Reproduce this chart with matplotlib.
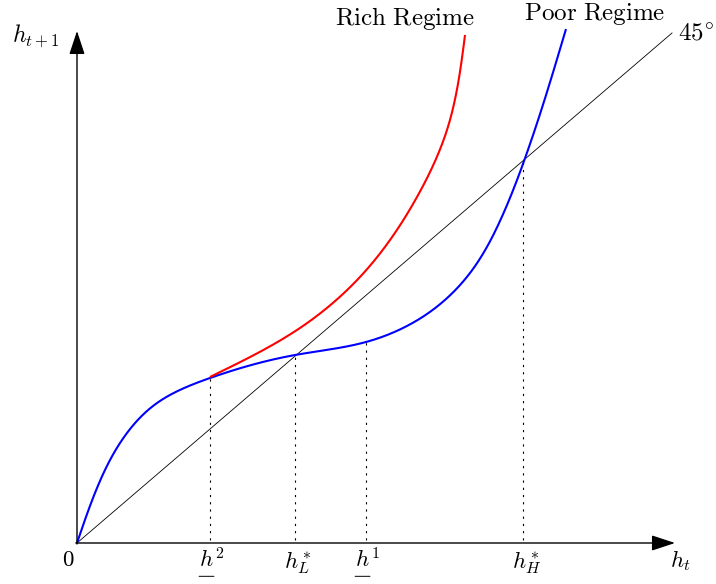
import numpy as np
import matplotlib
matplotlib.use("Agg")
import matplotlib.pyplot as plt
import matplotlib.transforms as mtransforms

plt.rcParams['mathtext.fontset'] = 'cm'

# curve values (h_t, h_{t+1}); the 45 degree line is y = x
poor_x = [0, 0.336, 0.723, 1.345, 2.235, 3.664, 4.857, 5.882, 6.605, 7.109,
          7.513, 7.899, 8.218]
poor_y = [0, 1.078, 1.961, 2.745, 3.235, 3.686, 3.941, 4.490, 5.294, 6.314,
          7.490, 8.843, 10.078]
rich_x = [2.235, 3.748, 4.756, 5.714, 6.218, 6.521]
rich_y = [3.255, 4.216, 5.216, 6.784, 8.098, 9.961]
diag_end = 10.0

# marked points on the h_t axis
mark_x = [2.235, 3.664, 4.857, 7.50]
mark_y = [3.235, 3.686, 3.941, 7.50]
mark_labels = [r'$h^2$', r'$h_L^*$', r'$h^1$', r'$h_H^*$']
mark_underline = [True, False, True, False]


def natural_spline(vals, t, tt):
    n = len(t)
    h = np.diff(t)
    A = np.zeros((n, n))
    b = np.zeros(n)
    A[0, 0] = A[-1, -1] = 1.0
    for i in range(1, n - 1):
        A[i, i - 1] = h[i - 1]
        A[i, i] = 2 * (h[i - 1] + h[i])
        A[i, i + 1] = h[i]
        b[i] = 6 * ((vals[i + 1] - vals[i]) / h[i] - (vals[i] - vals[i - 1]) / h[i - 1])
    M = np.linalg.solve(A, b)
    idx = np.clip(np.searchsorted(t, tt, side='right') - 1, 0, n - 2)
    t0, t1, hi = t[idx], t[idx + 1], h[idx]
    return (M[idx] * (t1 - tt) ** 3 / (6 * hi) + M[idx + 1] * (tt - t0) ** 3 / (6 * hi)
            + (vals[idx] / hi - M[idx] * hi / 6) * (t1 - tt)
            + (vals[idx + 1] / hi - M[idx + 1] * hi / 6) * (tt - t0))


def smooth(xs, ys, n=600):
    # chord-length cubic spline through the read points, for drawing only
    xs = np.asarray(xs, float)
    ys = np.asarray(ys, float)
    d = np.hypot(np.diff(xs), np.diff(ys))
    t = np.concatenate([[0], np.cumsum(d)])
    tt = np.linspace(0, t[-1], n)
    return natural_spline(xs, t, tt), natural_spline(ys, t, tt)


fig = plt.figure(figsize=(7.16, 5.84), dpi=100)
ax = fig.add_axes([0, 0, 1, 1])
ax.set_xlim(-1.294, 10.739)
ax.set_ylim(-0.804, 10.647)
ax.axis('off')

# axes with arrows
arrow = dict(arrowstyle='-|>,head_length=1.0,head_width=0.33', mutation_scale=14.5,
             lw=1.0, color='black', shrinkA=0, shrinkB=0)
ax.annotate('', xy=(10.05, 0), xytext=(-0.02, 0), arrowprops=arrow)
ax.annotate('', xy=(0, 10.04), xytext=(0, -0.02), arrowprops=arrow)

# 45 degree line
ax.plot([0, diag_end], [0, diag_end], color='black', lw=0.6)

bx, by = smooth(poor_x, poor_y)
ax.plot(bx, by, color='blue', lw=1.5, solid_capstyle='butt')
rx, ry = smooth(rich_x, rich_y)
ax.plot(rx, ry, color='red', lw=1.5, solid_capstyle='butt')

for mx, my in zip(mark_x, mark_y):
    ax.plot([mx, mx], [0.05, my], color='black', lw=0.8, linestyle=(0, (2, 4.5)))

fs = 16.5
label_base = -0.49
for mx, lab, ul in zip(mark_x, mark_labels, mark_underline):
    lx = mx - 0.19
    ax.text(lx, label_base, lab, fontsize=fs, ha='left', va='baseline')
    if ul:
        t_a = mtransforms.offset_copy(ax.transData, fig=fig, x=0.3, y=-6.0, units='points')
        t_b = mtransforms.offset_copy(ax.transData, fig=fig, x=11.0, y=-6.0, units='points')
        ax.annotate('', xy=(lx, label_base), xycoords=t_b, xytext=(lx, label_base),
                    textcoords=t_a,
                    arrowprops=dict(arrowstyle='-', lw=0.7, color='black',
                                    shrinkA=0, shrinkB=0))

ax.text(-0.25, -0.45, r'$0$', fontsize=fs, ha='left', va='baseline')
ax.text(9.97, -0.47, r'$h_t$', fontsize=fs, ha='left', va='baseline')
ax.text(-1.10, 9.82, r'$h_{t+1}$', fontsize=17, ha='left', va='baseline')
ax.text(5.51, 10.16, r'$\mathrm{Rich\ Regime}$', fontsize=18, ha='center', va='baseline')
ax.text(8.70, 10.26, r'$\mathrm{Poor\ Regime}$', fontsize=18, ha='center', va='baseline')
ax.text(10.10, 9.86, r'$45^{\circ}$', fontsize=18, ha='left', va='baseline')

fig.savefig('out.png', dpi=100)
